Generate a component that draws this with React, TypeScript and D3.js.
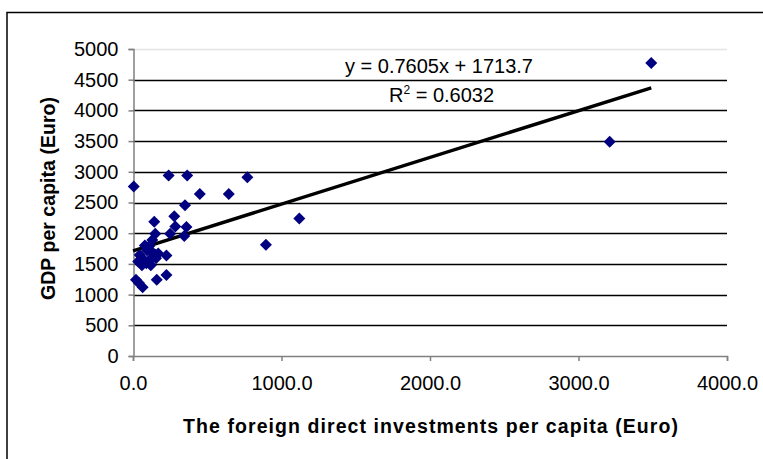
import { useEffect, useRef } from "react";
import * as d3 from "d3";

const W = 763, H = 459;
const PLOT = { left: 133, right: 727, top: 49, bottom: 356 };

// foreign direct investments per capita (Euro)
const FDI = [
  5, 240, 365, 770, 450, 645, 350, 278, 143, 285, 360, 150, 250, 345, 1120, 895, 3210, 3490,
  130, 80, 125, 45, 95, 60, 225, 35, 90, 155, 110, 60, 120, 20, 65, 160, 225, 40, 170, 110, 75, 150,
];
// GDP per capita (Euro)
const GDP = [
  2760, 2940, 2940, 2910, 2640, 2640, 2455, 2275, 2185, 2110, 2100, 1990, 1990, 1955, 2240, 1810, 3490, 4770,
  1890, 1800, 1700, 1645, 1720, 1600, 1635, 1540, 1510, 1590, 1560, 1480, 1480, 1240, 1120, 1240, 1320, 1190, 1670, 1790, 1540, 1650,
];
const X_TICKS = [0, 1000, 2000, 3000, 4000];
const Y_TICKS = [0, 500, 1000, 1500, 2000, 2500, 3000, 3500, 4000, 4500, 5000];
const SLOPE = 0.7605, INTERCEPT = 1713.7;

const FONT = "'Liberation Sans', Arial, sans-serif";

export default function App() {
  const ref = useRef<SVGSVGElement>(null);

  useEffect(() => {
    const svg = d3.select(ref.current);
    svg.selectAll("*").remove();

    const x = d3.scaleLinear().domain([0, 4000]).range([PLOT.left, PLOT.right]);
    const y = d3.scaleLinear().domain([0, 5000]).range([PLOT.bottom, PLOT.top]);

    svg.append("rect").attr("width", W).attr("height", H).attr("fill", "#fff");

    // outer chart border (runs off the right and bottom of the picture)
    svg.append("rect")
      .attr("x", 7).attr("y", 12.5).attr("width", W + 20).attr("height", H + 20)
      .attr("fill", "none").attr("stroke", "#000").attr("stroke-width", 1.5);

    // gridlines
    svg.append("g").selectAll("line").data(Y_TICKS.filter(v => v > 0))
      .join("line")
      .attr("x1", PLOT.left).attr("x2", PLOT.right)
      .attr("y1", d => Math.round(y(d)) + 0.5).attr("y2", d => Math.round(y(d)) + 0.5)
      .attr("stroke", d => (d === 5000 ? "#e4e4e4" : "#000"))
      .attr("stroke-width", 1.6);

    // y axis
    const yAxis = svg.append("g").attr("transform", `translate(${PLOT.left + 0.5},0)`)
      .call(d3.axisLeft(y).tickValues(Y_TICKS).tickSize(5).tickPadding(10).tickFormat(d3.format("d")));
    yAxis.select(".domain").attr("stroke", "#808080").attr("stroke-width", 1.5);
    yAxis.selectAll(".tick line").attr("stroke", "#808080").attr("stroke-width", 1.5);
    yAxis.selectAll("text").attr("font-family", FONT).attr("font-size", 20).attr("fill", "#000");

    // x axis
    const xAxis = svg.append("g").attr("transform", `translate(0,${PLOT.bottom})`)
      .call(d3.axisBottom(x).tickValues(X_TICKS).tickSize(5).tickPadding(10).tickFormat(d3.format(".1f")));
    xAxis.select(".domain").attr("stroke", "#808080").attr("stroke-width", 1.5);
    xAxis.selectAll(".tick line").attr("stroke", "#808080").attr("stroke-width", 1.5);
    xAxis.selectAll("text").attr("font-family", FONT).attr("font-size", 20).attr("fill", "#000")
      .attr("dy", "0.95em");

    // trendline
    const xMax = d3.max(FDI) as number;
    svg.append("line")
      .attr("x1", x(0)).attr("y1", y(INTERCEPT))
      .attr("x2", x(xMax)).attr("y2", y(SLOPE * xMax + INTERCEPT))
      .attr("stroke", "#000").attr("stroke-width", 3.4);

    // points
    const pts = FDI.map((v, i) => ({ fdi: v, gdp: GDP[i] }));
    svg.append("g").selectAll("path").data(pts).join("path")
      .attr("d", d3.symbol(d3.symbolSquare, 72)())
      .attr("transform", d => `translate(${x(d.fdi)},${y(d.gdp)}) rotate(45)`)
      .attr("fill", "#000080");

    // equation
    svg.append("text").attr("x", 345).attr("y", 73).attr("font-family", FONT)
      .attr("font-size", 20).text(`y = ${SLOPE}x + ${INTERCEPT}`);
    const r2 = svg.append("text").attr("x", 389).attr("y", 101.5).attr("font-family", FONT).attr("font-size", 20);
    r2.append("tspan").text("R");
    r2.append("tspan").attr("font-size", 12).attr("dy", -8).text("2");
    r2.append("tspan").attr("dy", 8).text(" = 0.6032");

    // axis titles
    svg.append("text").attr("x", 183).attr("y", 433)
      .attr("textLength", 495).attr("lengthAdjust", "spacing")
      .attr("font-family", FONT).attr("font-size", 19.5).attr("font-weight", "bold")
      .text("The foreign direct investments per capita (Euro)");
    svg.append("text").attr("transform", `translate(55,300) rotate(-90)`)
      .attr("textLength", 203).attr("lengthAdjust", "spacing")
      .attr("font-family", FONT).attr("font-size", 19.5).attr("font-weight", "bold")
      .text("GDP per capita (Euro)");
  }, []);

  return (
    <svg ref={ref} width={W} height={H}
      style={{ position: "absolute", left: 0, top: 0, display: "block", overflow: "hidden" }} />
  );
}
